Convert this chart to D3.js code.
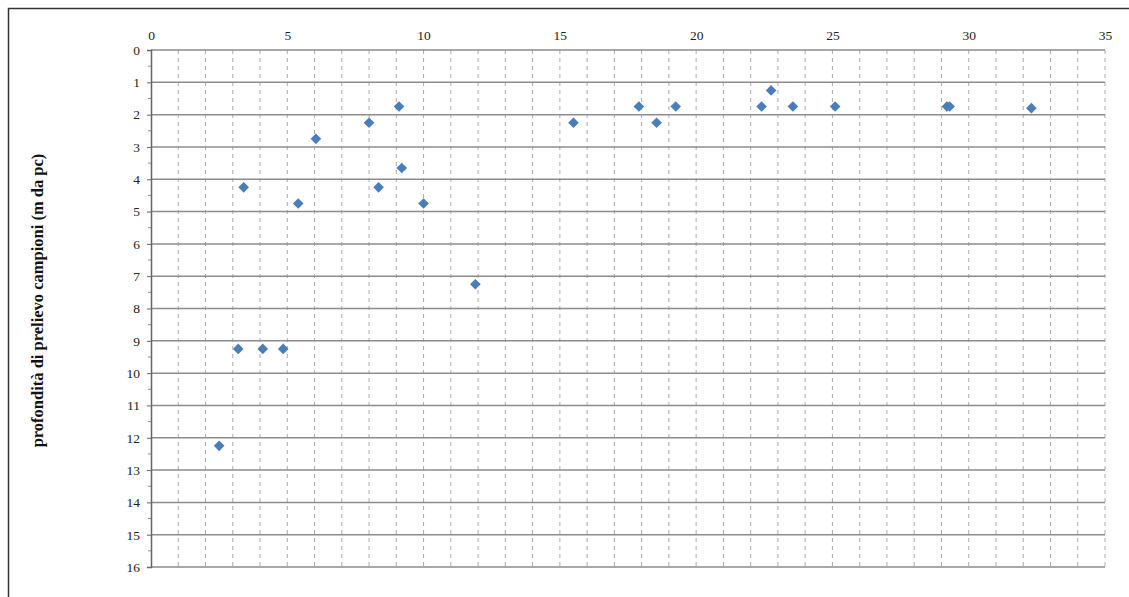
<!DOCTYPE html>
<html><head><meta charset="utf-8">
<script src="https://cdn.jsdelivr.net/npm/d3@7"></script>
<style>body{margin:0;background:#fff}svg{display:block}</style>
</head><body>
<svg id="c" width="1129" height="597"></svg>
<script>
const xValues = [3.4,5.4,6.05,8.0,9.1,8.35,9.2,10.0,11.9,3.2,4.1,4.85,2.5,15.5,17.9,18.55,19.25,22.4,22.75,23.55,25.1,29.2,29.3,32.3];
const yValues = [4.25,4.75,2.75,2.25,1.75,4.25,3.65,4.75,7.25,9.25,9.25,9.25,12.25,2.25,1.75,2.25,1.75,1.75,1.25,1.75,1.75,1.75,1.75,1.8];
const xTicks = [0,5,10,15,20,25,30,35];
const yTicks = d3.range(0,17);
const yLabel = "profondità di prelievo campioni (m da pc)";

const svg = d3.select("#c");
const font = "'Liberation Serif','Times New Roman',serif";
// outer frame
svg.append("rect").attr("x",8.5).attr("y",8.5).attr("width",1140).attr("height",600)
  .attr("fill","none").attr("stroke","#333").attr("stroke-width",1.5);

const x = d3.scaleLinear().domain([0,35]).range([151,1105]);
const y = d3.scaleLinear().domain([0,16]).range([50,567]);

// vertical dashed minor grid
svg.append("g").selectAll("line").data(d3.range(1,36)).join("line")
  .attr("x1",d=>x(d)).attr("x2",d=>x(d)).attr("y1",y(0)).attr("y2",y(16))
  .attr("stroke","#aaa").attr("stroke-width",1).attr("stroke-dasharray","4,4");

// horizontal solid grid
svg.append("g").selectAll("line").data(yTicks).join("line")
  .attr("x1",x(0)).attr("x2",x(35)).attr("y1",d=>y(d)).attr("y2",d=>y(d))
  .attr("stroke","#8c8c8c").attr("stroke-width",1.5);

// y axis
const yAxis = d3.axisLeft(y).tickValues(yTicks).tickFormat(d3.format("d")).tickSize(4).tickPadding(7);
const gy = svg.append("g").attr("transform",`translate(${x(0)},0)`).call(yAxis);
gy.select(".domain").attr("stroke","#666").attr("stroke-width",1.5);
gy.selectAll(".tick line").attr("stroke","#666");
gy.selectAll("text").attr("font-family",font).attr("font-size",13.5).attr("fill","#222");
// minor y ticks
svg.append("g").selectAll("line").data(d3.range(0.5,16,1)).join("line")
  .attr("x1",x(0)-3).attr("x2",x(0)).attr("y1",d=>y(d)).attr("y2",d=>y(d))
  .attr("stroke","#888").attr("stroke-width",1);

// x axis on top
const xAxis = d3.axisTop(x).tickValues(xTicks).tickSize(0).tickPadding(10);
const gx = svg.append("g").attr("transform",`translate(0,${y(0)})`).call(xAxis);
gx.select(".domain").remove();
gx.selectAll("text").attr("font-family",font).attr("font-size",13.5).attr("fill","#222");

// points
const pts = xValues.map((v,i)=>({x:v,y:yValues[i]}));
svg.append("g").selectAll("path").data(pts).join("path")
  .attr("d", d3.symbol().type(d3.symbolDiamond2).size(72))
  .attr("transform",d=>`translate(${x(d.x)},${y(d.y)})`)
  .attr("fill","#4a7ebb");

// y label
svg.append("text").attr("transform",`translate(43,${(y(0)+y(16))/2 - 8}) rotate(-90)`)
  .attr("text-anchor","middle").attr("font-family",font).attr("font-weight","bold")
  .attr("font-size",16.5).attr("fill","#111").text(yLabel);
</script>
</body></html>
